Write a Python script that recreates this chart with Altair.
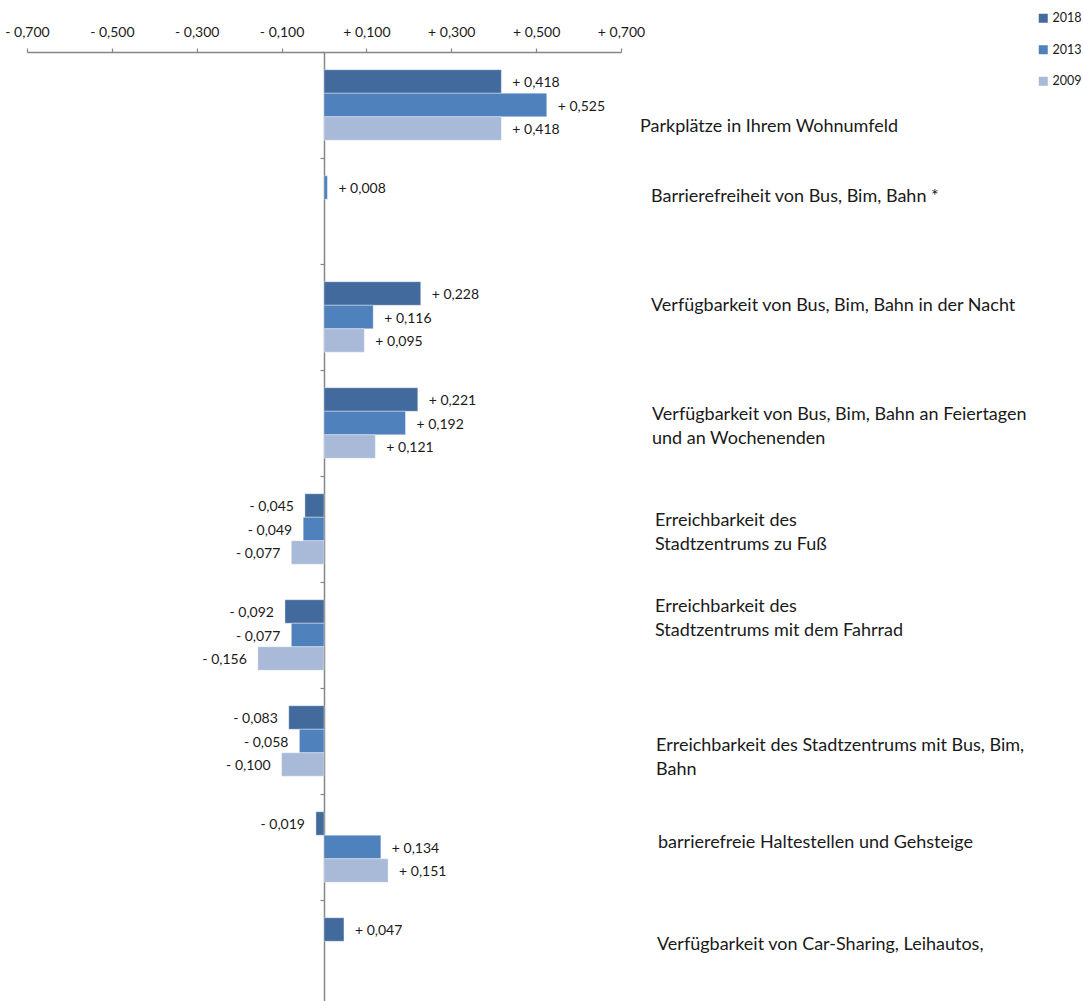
import altair as alt
import pandas as pd

# Survey items (top to bottom) and their change scores per survey year
categories = [
    "Parkplätze in Ihrem Wohnumfeld",
    "Barrierefreiheit von Bus, Bim, Bahn *",
    "Verfügbarkeit von Bus, Bim, Bahn in der Nacht",
    "Verfügbarkeit von Bus, Bim, Bahn an Feiertagen\nund an Wochenenden",
    "Erreichbarkeit des\nStadtzentrums zu Fuß",
    "Erreichbarkeit des\nStadtzentrums mit dem Fahrrad",
    "Erreichbarkeit des Stadtzentrums mit Bus, Bim,\nBahn",
    "barrierefreie Haltestellen und Gehsteige",
    "Verfügbarkeit von Car-Sharing, Leihautos,",
]
years = ["2018", "2013", "2009"]
values_2018 = [0.418, None, 0.228, 0.221, -0.045, -0.092, -0.083, -0.019, 0.047]
values_2013 = [0.525, 0.008, 0.116, 0.192, -0.049, -0.077, -0.058, 0.134, None]
values_2009 = [0.418, None, 0.095, 0.121, -0.077, -0.156, -0.100, 0.151, None]
axis_ticks = [-0.7, -0.5, -0.3, -0.1, 0.1, 0.3, 0.5, 0.7]

colors = ["#426A9C", "#4F81BD", "#A9B9D8"]

# Long table; bars of a group fill the rows from the top, skipping missing years
rows = []
series = dict(zip(years, [values_2018, values_2013, values_2009]))
for i, cat in enumerate(categories):
    slot = 0
    for yr in years:
        v = series[yr][i]
        if v is None:
            continue
        rows.append({"item": cat, "year": yr, "value": v, "slot": slot})
        slot += 1
df = pd.DataFrame(rows)
labels_df = pd.DataFrame({"item": categories})

W, H = 594, 949
STEP = 106
FONT = "Lato"
INK = "#1a1a1a"
GREY = "#868686"

x_scale = alt.Scale(domain=[-0.7, 0.7], nice=False, zero=False)
# each item owns a full band; the three bar rows take the middle two thirds of it
y_scale = alt.Scale(domain=categories, range=[0, STEP * len(categories)],
                    paddingInner=0, paddingOuter=0)
off_scale = alt.Scale(domain=[0, 1, 2], paddingInner=0, paddingOuter=0.755)

text_expr = "(datum.value < 0 ? '- ' : '+ ') + replace(format(abs(datum.value), '.3f'), '.', ',')"

base = alt.Chart(df).encode(
    y=alt.Y("item:N", scale=y_scale, sort=categories,
            axis=alt.Axis(orient="left", offset=-297, labels=False, title=None,
                          domainColor=GREY, domainWidth=1.5, tickColor=GREY,
                          tickSize=4, tickWidth=1.2, tickBand="extent", grid=False)),
    yOffset=alt.YOffset("slot:O", scale=off_scale),
)

bars = base.mark_bar(stroke="white", strokeWidth=0.6, strokeOpacity=0.6).encode(
    x=alt.X("value:Q", scale=x_scale,
            axis=alt.Axis(orient="top", values=axis_ticks, labelExpr=text_expr, title=None,
                          domainColor=GREY, domainWidth=1.5, tickColor=GREY,
                          tickSize=4, tickWidth=1.2, labelFont=FONT, labelFontSize=14,
                          labelColor=INK, labelPadding=9, labelFlush=False,
                          grid=False)),
    x2=alt.datum(0),
    color=alt.Color("year:N", scale=alt.Scale(domain=years, range=colors),
                    legend=alt.Legend(orient="none", legendX=1010, legendY=-40, title=None,
                                      symbolType="square", symbolSize=81,
                                      symbolStrokeWidth=0, labelFont=FONT,
                                      labelFontSize=12.5, labelColor=INK,
                                      rowPadding=18.5, labelOffset=3)),
)

pos_labels = base.transform_filter("datum.value >= 0").transform_calculate(
    lbl=text_expr
).mark_text(align="left", baseline="middle", dx=11, dy=1.5, font=FONT, fontSize=14,
            color=INK).encode(x=alt.X("value:Q", scale=x_scale), text="lbl:N")

neg_labels = base.transform_filter("datum.value < 0").transform_calculate(
    lbl=text_expr
).mark_text(align="right", baseline="middle", dx=-11, dy=1.5, font=FONT, fontSize=14,
            color=INK).encode(x=alt.X("value:Q", scale=x_scale), text="lbl:N")

# Item names sit in free-standing text boxes to the right of the plot
label_dx = [0, 11, 11, 12, 15, 15, 16, 18, 17]
label_dy = [22, -14, -11, -8, -8, -28, 5, -4, -8]
label_layers = []
for i, cat in enumerate(categories):
    label_layers.append(
        alt.Chart(labels_df).transform_filter(alt.datum.item == cat)
        .mark_text(align="left", baseline="middle", font=FONT, fontSize=18,
                   lineBreak="\n", lineHeight=24, color=INK,
                   dx=label_dx[i], dy=label_dy[i])
        .encode(y=alt.Y("item:N", scale=y_scale, sort=categories),
                x=alt.value(613), text="item:N")
    )

chart = alt.layer(bars, pos_labels, neg_labels, *label_layers).properties(
    width=W, height=H,
    autosize=alt.AutoSizeParams(type="none"),
    padding={"left": 27, "top": 52, "right": 1083 - 27 - W, "bottom": 0},
).configure(background="white", view=alt.ViewConfig(stroke=None))

chart.save("out.html", embed_options={"renderer": "svg", "actions": False})
